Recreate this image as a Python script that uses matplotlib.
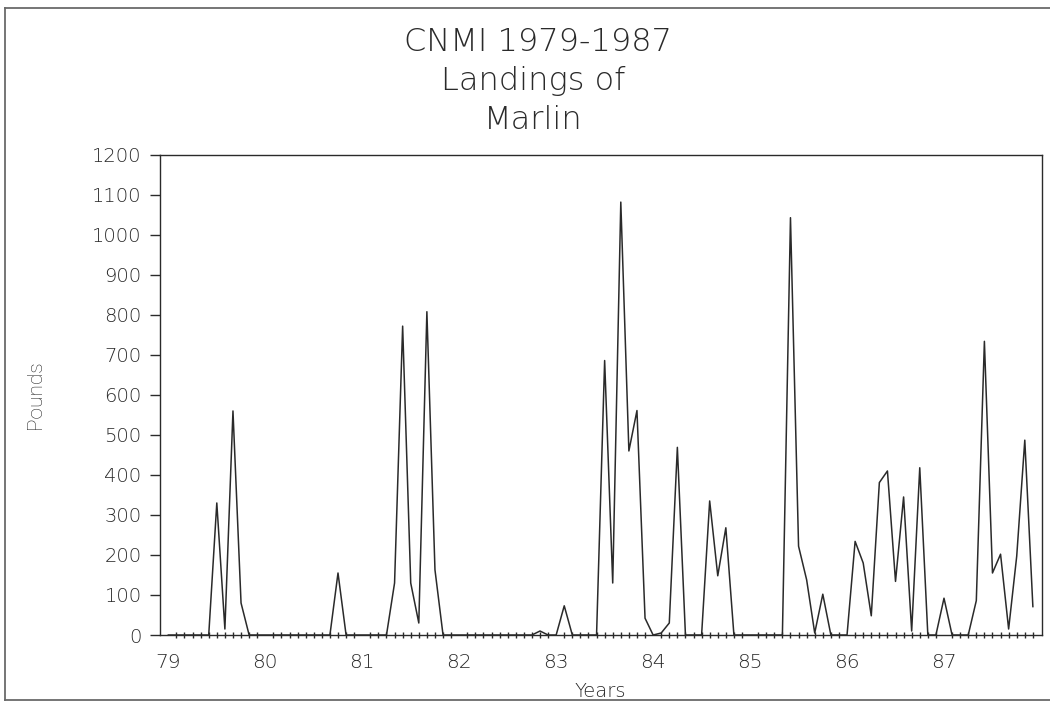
import matplotlib
matplotlib.use("Agg")
import matplotlib.pyplot as plt
import numpy as np
from matplotlib.lines import Line2D

# Monthly landings (pounds), Jan 1979 .. Dec 1987
y1979 = [0, 0, 0, 0, 0, 0, 330, 15, 560, 80, 0, 0]
y1980 = [0, 0, 0, 0, 0, 0, 0, 0, 0, 155, 0, 0]
y1981 = [0, 0, 0, 0, 130, 772, 130, 30, 808, 163, 0, 0]
y1982 = [0, 0, 0, 0, 0, 0, 0, 0, 0, 0, 10, 0]
y1983 = [0, 73, 0, 0, 0, 0, 686, 130, 1082, 460, 561, 42]
y1984 = [0, 5, 30, 469, 0, 0, 0, 335, 148, 268, 0, 0]
y1985 = [0, 0, 0, 0, 0, 1043, 222, 138, 5, 102, 0, 0]
y1986 = [0, 234, 180, 48, 381, 410, 134, 345, 10, 418, 0, 0]
y1987 = [92, 0, 0, 0, 86, 734, 155, 202, 15, 197, 487, 71]

years = [79, 80, 81, 82, 83, 84, 85, 86, 87]
year_labels = ["79", "80", "81", "82", "83", "84", "85", "86", "87"]
yticks = list(range(0, 1201, 100))

values = y1979 + y1980 + y1981 + y1982 + y1983 + y1984 + y1985 + y1986 + y1987
x = 79 + np.arange(len(values)) / 12.0

ink = "#2a2a2a"
font = "DejaVu Sans"

fig = plt.figure(figsize=(10.5, 7.04), dpi=100)
ax = fig.add_axes([0.152, 0.098, 0.840, 0.682])

ax.plot(x, values, color=ink, lw=1.1)

ax.set_xlim(79 - 0.09, x[-1] + 0.09)
ax.set_ylim(0, 1200)

ax.set_yticks(yticks)
ax.set_yticklabels([str(v) for v in yticks], fontsize=14, color=ink,
                   family=font, fontweight="light")
ax.set_xticks(years)
ax.set_xticklabels(year_labels, fontsize=14.5, color=ink, family=font,
                   fontweight="light")
ax.set_xticks(x, minor=True)

ax.tick_params(axis="y", direction="out", length=7, width=1, color=ink, pad=6)
ax.tick_params(axis="x", which="major", length=0, pad=13)
ax.tick_params(axis="x", which="minor", direction="inout", length=5, width=1,
               color=ink)
for s in ax.spines.values():
    s.set_color(ink)
    s.set_linewidth(1.0)

ax.set_xlabel("Years", fontsize=14, color=ink, family=font,
              fontweight="light", labelpad=7)
ax.set_ylabel("Pounds", fontsize=15, color=ink,
              family=["Roboto", "DejaVu Sans"], fontweight="light",
              labelpad=34)

fig.text(0.512, 0.940, "CNMI 1979-1987", ha="center", va="center",
         fontsize=23, color=ink, family=font, fontweight="light")
fig.text(0.508, 0.885, "Landings of", ha="center", va="center",
         fontsize=23, color=ink, family=font, fontweight="light")
fig.text(0.508, 0.830, "Marlin", ha="center", va="center",
         fontsize=23, color=ink, family=font, fontweight="light")

border = "#6a6a6a"
fig.lines.append(Line2D([0.005, 0.005], [0.006, 0.988], transform=fig.transFigure,
                        color=border, lw=1.3))
fig.lines.append(Line2D([0.005, 1.0], [0.988, 0.988], transform=fig.transFigure,
                        color=border, lw=1.3))
fig.lines.append(Line2D([0.005, 1.0], [0.006, 0.006], transform=fig.transFigure,
                        color=border, lw=1.3))

fig.savefig("out.png", dpi=100)
